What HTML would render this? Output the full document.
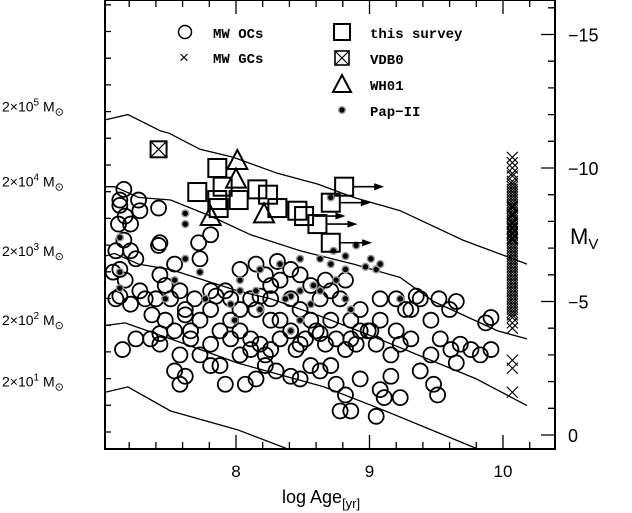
<!DOCTYPE html>
<html><head><meta charset="utf-8"><style>
html,body{margin:0;padding:0;background:#fff;}
svg{display:block;}
text{font-family:"Liberation Sans",sans-serif;}
.leg{font-family:"Liberation Mono",monospace;font-weight:bold;font-size:14px;}
</style></head><body>
<svg id="chart" width="632" height="513" viewBox="0 0 632 513" xmlns="http://www.w3.org/2000/svg">
<g id="lines"></g>
<g id="marks"></g>
<g id="axes"></g>
<g id="legend">
  <circle cx="185" cy="32" r="6.5" fill="none" stroke="#000" stroke-width="1.5"/>
  <text class="leg" x="213" y="38">MW OCs</text>
  <text x="179" y="63" font-size="17">×</text>
  <text class="leg" x="213" y="63">MW GCs</text>
  <rect x="334" y="24" width="16" height="16" fill="none" stroke="#000" stroke-width="2"/>
  <text class="leg" x="370" y="38">this survey</text>
  <g><rect x="335" y="51" width="14" height="14" fill="none" stroke="#000" stroke-width="1.6"/><path d="M335 51L349 65M349 51L335 65" stroke="#000" stroke-width="1.2"/></g>
  <text class="leg" x="370" y="64">VDB0</text>
  <path d="M333 92L342 75L351 92Z" fill="none" stroke="#000" stroke-width="2"/>
  <text class="leg" x="370" y="90">WH01</text>
  <g><circle cx="342" cy="110" r="4" fill="#999"/><circle cx="342" cy="110" r="2.6" fill="#000"/></g>
  <text class="leg" x="370" y="116">Pap−II</text>
</g>
</svg>
<script>
// ---- data ----
const ocAge=[7.16,7.13,7.17,7.12,7.16,7.10,7.21,7.13,7.08,7.17,7.13,7.10,7.21,7.28,7.32,7.28,7.42,7.43,7.40,7.37,7.47,7.51,7.58,7.62,7.54,7.66,7.73,7.81,7.85,7.92,7.96,8.03,8.11,8.18,8.26,8.33,8.41,8.48,8.56,8.63,8.71,8.78,8.86,8.93,9.01,9.08,9.20,9.23,9.31,9.38,9.46,9.53,9.61,9.68,9.76,9.83,9.91,9.52,9.65,9.60,9.87,9.91,8.99,8.90,8.82,8.75,8.67,8.60,8.52,8.45,8.33,8.26,8.18,8.11,8.03,7.96,7.88,7.81,7.73,7.66,7.58,7.43,7.36,7.25,7.15,7.54,7.62,7.81,7.88,8.03,7.92,8.07,8.15,8.22,8.30,8.41,8.48,8.56,8.63,8.75,8.82,8.93,9.08,9.16,9.31,9.46,9.65,9.48,9.51,9.23,8.86,9.11,8.78,9.05,7.54,7.47,7.42,7.43,7.72,7.81,7.13,7.27,7.73,7.62,7.69,8.03,8.15,8.22,8.41,8.48,8.56,8.26,7.96,8.33,8.71,9.20,8.82,8.67,9.08,9.27,9.35,8.48,9.16,9.38,8.86,8.71,8.26,7.58,7.43,7.81,7.25,7.21,8.31,8.15,8.41,8.63,8.93,9.05,8.11,8.22];
const ocMv=[-9.2,-8.6,-8.2,-7.9,-7.3,-6.9,-6.9,-6.2,-6.1,-5.8,-5.2,-5.1,-4.9,-5.4,-5.1,-8.4,-7.1,-6.0,-5.1,-4.5,-4.3,-5.1,-5.4,-4.7,-3.9,-3.9,-4.3,-4.7,-5.2,-5.4,-5.1,-4.7,-5.1,-5.2,-5.6,-5.8,-5.1,-4.7,-4.3,-5.1,-5.4,-5.1,-4.3,-4.7,-3.9,-4.3,-3.9,-3.4,-4.7,-5.1,-4.3,-3.6,-3.2,-3.4,-3.2,-3.0,-3.2,-5.1,-5.0,-4.7,-4.2,-4.4,-3.9,-3.4,-3.2,-3.6,-3.4,-3.9,-3.6,-3.2,-3.6,-3.2,-3.4,-3.6,-3.9,-3.6,-3.9,-3.4,-3.0,-3.6,-3.0,-3.8,-3.6,-3.6,-3.2,-2.4,-2.2,-2.6,-2.6,-3.0,-1.9,-1.9,-2.1,-2.6,-2.4,-2.2,-2.1,-2.6,-2.4,-1.9,-1.5,-2.1,-1.7,-2.2,-3.6,-3.0,-2.7,-1.9,-1.5,-1.4,-0.9,-1.4,-0.9,-0.7,-6.4,-5.6,-8.5,-7.2,-7.2,-7.5,-8.8,-8.8,-6.6,-4.5,-5.1,-6.2,-6.4,-6.0,-6.2,-6.0,-5.6,-5.1,-4.3,-4.3,-4.3,-5.1,-5.8,-5.8,-5.1,-4.7,-5.2,-3.4,-3.0,-2.4,-3.6,-2.6,-4.3,-1.9,-3.4,-5.4,-6.6,-7.9,-6.5,-4.7,-3.9,-3.8,-3.9,-3.4,-3.2,-3.0];
const papAge=[7.62,7.62,7.13,7.13,7.47,7.54,7.13,8.03,8.03,8.15,8.18,8.41,8.48,8.63,8.75,8.48,8.63,8.82,9.01,9.05,8.97,8.82,8.90,8.82,8.71,8.58,7.96,7.77,8.18,8.56,8.37,9.08,8.33,7.99,8.41,8.86,9.23,7.62,7.73,8.48,8.73,8.71];
const papMv=[-8.3,-7.9,-7.4,-6.1,-5.1,-5.8,-5.5,-5.4,-5.8,-5.4,-6.2,-5.2,-5.4,-5.4,-5.8,-4.3,-6.6,-6.2,-6.6,-6.2,-6.3,-5.1,-7.1,-6.7,-6.4,-5.6,-4.9,-5.1,-4.7,-4.9,-5.1,-6.4,-6.4,-4.3,-3.9,-4.7,-5.1,-6.6,-6.1,-6.6,-6.9,-8.9];
const gcAge=10.07;
const gcMv=[-10.4,-10.2,-10.0,-9.8,-9.7,-9.5,-9.4,-9.3,-9.2,-9.1,-9.0,-8.9,-8.8,-8.7,-8.6,-8.55,-8.5,-8.4,-8.3,-8.25,-8.2,-8.1,-8.0,-7.95,-7.9,-7.8,-7.75,-7.7,-7.6,-7.55,-7.5,-7.4,-7.35,-7.3,-7.2,-7.1,-7.0,-6.9,-6.8,-6.7,-6.6,-6.5,-6.4,-6.3,-6.2,-6.1,-6.0,-5.9,-5.8,-5.7,-5.6,-5.5,-5.4,-5.3,-5.2,-5.1,-5.0,-4.9,-4.8,-4.7,-4.6,-4.5,-4.4,-4.2,-4.0,-2.8,-2.5,-1.6];
const svAge=[7.86,7.71,7.90,8.02,7.86,7.87,8.16,8.24,8.31,8.46,8.51,8.61,8.71,8.81,8.71];
const svMv=[-10.0,-9.1,-9.3,-8.8,-8.8,-8.5,-9.2,-9.0,-8.5,-8.4,-8.2,-7.9,-8.7,-9.3,-7.2];
const svArrowTo=[null,null,null,null,null,null,null,null,null,null,8.82,8.91,9.01,9.11,9.02];
const vdbAge=[7.42], vdbMv=[-10.7];
const whAge=[8.01,8.00,7.81,8.21], whMv=[-10.3,-9.6,-8.2,-8.3];
const trackAge=[
 [7.02,7.19,7.43,7.50,7.73,7.98,8.31,8.61,8.88,9.23,9.70,10.18],
 [7.02,7.09,7.27,7.51,7.81,8.11,8.48,8.88,9.23,9.48,9.96,10.18],
 [7.02,7.09,7.27,7.51,7.76,8.01,8.26,8.66,9.07,9.80,10.18],
 [7.02,7.17,7.51,8.01,8.66,9.07,9.80],
 [7.02,7.19,7.51,8.01,8.48]];
const trackMv=[
 [-11.8,-12.0,-11.4,-11.3,-10.7,-10.4,-9.8,-9.4,-8.9,-8.4,-7.3,-6.4],
 [-9.3,-9.3,-8.9,-8.8,-8.2,-7.5,-6.9,-6.4,-5.9,-5.0,-3.9,-3.6],
 [-6.7,-6.8,-6.4,-6.2,-5.8,-5.4,-5.1,-4.4,-3.6,-2.1,-1.1],
 [-4.1,-4.2,-3.6,-2.7,-1.8,-1.0,0.5],
 [-1.6,-1.8,-0.9,-0.2,0.7]];
const xTicksMajor=[8,9,10];
const mvTickLabels=[0,-5,-10,-15];
const massLabels=["5","4","3","2","1"];
const massMv=[-12.3,-9.5,-6.9,-4.3,-2.0];

// ---- scales ----
const X0=105,X1=555,Y0=0,Y1=449;
const xs=a=>236+(a-8)*133.5;
const ys=m=>435+m*26.7;
const NS="http://www.w3.org/2000/svg";
function mk(tag,attrs,parent){const e=document.createElementNS(NS,tag);for(const k in attrs)e.setAttribute(k,attrs[k]);parent.appendChild(e);return e;}
const L=document.getElementById('lines'),M=document.getElementById('marks'),A=document.getElementById('axes');

const defs=mk('defs',{},document.getElementById('chart'));
const cp=mk('clipPath',{id:'pc'},defs);mk('rect',{x:X0,y:Y0,width:X1-X0,height:Y1-Y0},cp);
L.setAttribute('clip-path','url(#pc)');

trackAge.forEach((ta,i)=>{
  const d=ta.map((a,j)=>(j?'L':'M')+xs(a).toFixed(1)+' '+ys(trackMv[i][j]).toFixed(1)).join('');
  const p=mk('path',{d:d,fill:'none',stroke:'#000','stroke-width':1.3},L);
  
  
});

ocAge.forEach((a,i)=>{
  const c=mk('circle',{cx:xs(a),cy:ys(ocMv[i]),r:7.5,fill:'none',stroke:'#000','stroke-width':1.8},M);
  
  
});
papAge.forEach((a,i)=>{
  const g=mk('g',{},M);
  
  
  mk('circle',{cx:xs(a),cy:ys(papMv[i]),r:4.2,fill:'#999'},g);
  mk('circle',{cx:xs(a),cy:ys(papMv[i]),r:2.7,fill:'#000'},g);
});
gcMv.forEach(m=>{
  const x=xs(gcAge),y=ys(m),s=5.5;
  const p=mk('path',{d:`M${x-s} ${y-s}L${x+s} ${y+s}M${x+s} ${y-s}L${x-s} ${y+s}`,stroke:'#000','stroke-width':1.1},M);
  
  
});
svAge.forEach((a,i)=>{
  const x=xs(a),y=ys(svMv[i]);
  const g=mk('g',{},M);
  
  
  if(svArrowTo[i]!==null){
    const xe=xs(svArrowTo[i]);
    mk('path',{d:`M${x+9} ${y}L${xe-8} ${y}`,stroke:'#000','stroke-width':1.6},g);
    mk('path',{d:`M${xe-10} ${y-3.5}L${xe} ${y}L${xe-10} ${y+3.5}Z`,fill:'#000'},g);
  }
  mk('rect',{x:x-9,y:y-9,width:18,height:18,fill:'none',stroke:'#000','stroke-width':2},g);
});
vdbAge.forEach((a,i)=>{
  const x=xs(a),y=ys(vdbMv[i]);
  const g=mk('g',{},M);
  
  
  mk('rect',{x:x-8,y:y-8,width:16,height:16,fill:'none',stroke:'#000','stroke-width':2},g);
  mk('path',{d:`M${x-8} ${y-8}L${x+8} ${y+8}M${x+8} ${y-8}L${x-8} ${y+8}`,stroke:'#000','stroke-width':1.2},g);
});
whAge.forEach((a,i)=>{
  const x=xs(a),y=ys(whMv[i]);
  const p=mk('path',{d:`M${x-10} ${y+9}L${x} ${y-10}L${x+10} ${y+9}Z`,fill:'none',stroke:'#000','stroke-width':2},M);
  
  
});

const fr=mk('rect',{x:X0,y:Y0,width:X1-X0,height:Y1-Y0,fill:'none',stroke:'#000','stroke-width':2},A);


for(let k=36;k<=51;k++){
  const a=k/5,x=xs(a);if(x<X0||x>X1)continue;
  const len=(k%5===0)?14:7;
  mk('path',{d:`M${x} ${Y1}L${x} ${Y1-len}M${x} ${Y0}L${x} ${Y0+len}`,stroke:'#000','stroke-width':1.3},A);
}
xTicksMajor.forEach(v=>{
  const t=mk('text',{x:xs(v),y:477,'font-size':17,'text-anchor':'middle'},A);
  t.textContent=v;
  
  
});
for(let m=0;m>=-16;m--){
  const y=ys(m);if(y<Y0)continue;
  const len=(m%5===0)?14:7;
  mk('path',{d:`M${X1} ${y}L${X1-len} ${y}M${X0} ${y-3}L${X0+6} ${y-3}`,stroke:'#000','stroke-width':1.3},A);
}
mvTickLabels.forEach(v=>{
  const t=mk('text',{x:568,y:ys(v)+7,'font-size':18},A);
  t.textContent=v<0?'−'+(-v):v;
  
  
});
massLabels.forEach((e,i)=>{
  const t=mk('text',{x:2,y:ys(massMv[i])+5,'font-size':14},A);
  
  
  t.innerHTML='2×10<tspan dy="-6" font-size="10">'+e+'</tspan><tspan dy="6"> M</tspan><tspan dy="4" font-size="11">⊙</tspan>';
});
const yt=mk('text',{x:570,y:244,'font-size':22,'font-family':'Liberation Serif'},A);
yt.innerHTML='M<tspan dy="5" font-size="15">V</tspan>';


const xt=mk('text',{x:282,y:503,'font-size':18},A);
xt.innerHTML='log Age<tspan dy="5" font-size="13">[yr]</tspan>';


</script>
</body></html>
